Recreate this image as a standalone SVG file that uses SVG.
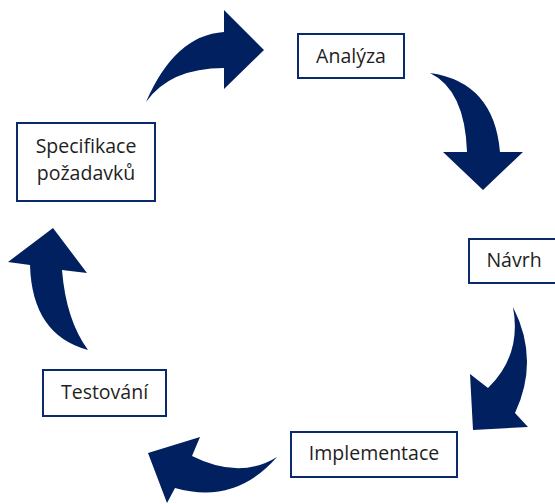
<svg xmlns="http://www.w3.org/2000/svg" width="555" height="504" viewBox="0 0 555 504">
  <style>
    .box { fill: #ffffff; stroke: #0b2a6b; stroke-width: 2; }
    .label { font-family: "Open Sans", "Liberation Sans", Arial, sans-serif; font-size: 19.5px; fill: #1e1e1e; text-anchor: middle; }
    .arrow { fill: #002060; stroke: none; }
  </style>
  <rect width="555" height="504" fill="#ffffff"/>

  <!-- curved cycle arrows -->
  <g id="connectors">
    <path class="arrow" d="M146,102 Q175,35 224,32 L224,10 L264,50 L224,89 L224,68 Q170,68 146,102 Z"/>
    <path class="arrow" d="M430,73 Q494,82 500,152 L523,152 L483,190 L443,152 L467,152 Q465,90 430,73 Z"/>
    <path class="arrow" d="M513,307 Q540,360 515,413 L528,427 L473,430 L470,374 L488,388 Q522,355 513,307 Z"/>
    <path class="arrow" d="M277,457 Q240,480 192,456 L200,437 L148,453 L167,503 L175,488 Q235,505 277,457 Z"/>
    <path class="arrow" d="M88,350 Q66,320 62,270 L87,273 L53,228 L8,262 L30,265 Q32,335 88,350 Z"/>
  </g>

  <g id="node-analyza">
    <rect class="box" x="298" y="34" width="106" height="44"/>
    <text class="label" x="351" y="63">Analýza</text>
  </g>

  <g id="node-navrh">
    <rect class="box" x="469" y="239" width="88" height="44"/>
    <text class="label" x="514" y="267">Návrh</text>
  </g>

  <g id="node-implementace">
    <rect class="box" x="291" y="432" width="166" height="45"/>
    <text class="label" x="374" y="460">Implementace</text>
  </g>

  <g id="node-testovani">
    <rect class="box" x="43" y="370" width="123" height="46"/>
    <text class="label" x="104.5" y="399">Testování</text>
  </g>

  <g id="node-specifikace">
    <rect class="box" x="17" y="123" width="138" height="78"/>
    <text class="label" x="86" y="153">Specifikace</text>
    <text class="label" x="86" y="180">požadavků</text>
  </g>
</svg>
